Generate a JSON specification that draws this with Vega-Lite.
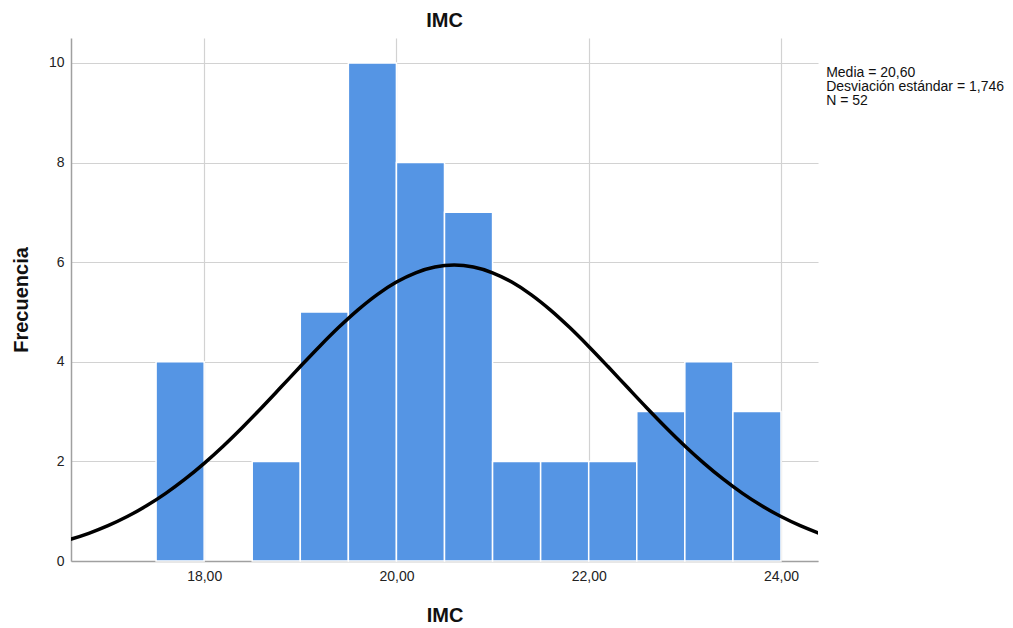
{
  "$schema": "https://vega.github.io/schema/vega-lite/v6.json",
  "width": 747,
  "height": 523,
  "autosize": "none",
  "padding": {"left": 71, "top": 38, "right": 195, "bottom": 67},
  "background": "white",
  "config": {
    "font": "Liberation Sans",
    "view": {"stroke": null},
    "axis": {"ticks": false, "domainColor": "#a0a0a0", "domainWidth": 1.5, "gridColor": "#d2d2d2", "gridWidth": 1.2, "labelFont": "Liberation Sans", "labelFontSize": 14, "labelColor": "#222", "titleFont": "Liberation Sans", "titleFontSize": 20, "titleFontWeight": "bold", "titleColor": "#111"}
  },
  "title": {"text": "IMC", "fontSize": 20, "fontWeight": "bold", "font": "Liberation Sans", "color": "#111", "offset": 7, "anchor": "middle"},
  "datasets": {
    "bins": [
      {"start": 17.5, "end": 18.0, "count": 4},
      {"start": 18.0, "end": 18.5, "count": 0},
      {"start": 18.5, "end": 19.0, "count": 2},
      {"start": 19.0, "end": 19.5, "count": 5},
      {"start": 19.5, "end": 20.0, "count": 10},
      {"start": 20.0, "end": 20.5, "count": 8},
      {"start": 20.5, "end": 21.0, "count": 7},
      {"start": 21.0, "end": 21.5, "count": 2},
      {"start": 21.5, "end": 22.0, "count": 2},
      {"start": 22.0, "end": 22.5, "count": 2},
      {"start": 22.5, "end": 23.0, "count": 3},
      {"start": 23.0, "end": 23.5, "count": 4},
      {"start": 23.5, "end": 24.0, "count": 3}
    ],
    "curve": [
      {"x": 16.4, "y": 0.3318},
      {"x": 16.6, "y": 0.4306},
      {"x": 16.8, "y": 0.5562},
      {"x": 17.0, "y": 0.7090},
      {"x": 17.2, "y": 0.8922},
      {"x": 17.4, "y": 1.1078},
      {"x": 17.6, "y": 1.3576},
      {"x": 17.8, "y": 1.6421},
      {"x": 18.0, "y": 1.9604},
      {"x": 18.2, "y": 2.3097},
      {"x": 18.4, "y": 2.6859},
      {"x": 18.6, "y": 3.0825},
      {"x": 18.8, "y": 3.4919},
      {"x": 19.0, "y": 3.9039},
      {"x": 19.2, "y": 4.3074},
      {"x": 19.4, "y": 4.6910},
      {"x": 19.6, "y": 5.0421},
      {"x": 19.8, "y": 5.3486},
      {"x": 20.0, "y": 5.6001},
      {"x": 20.2, "y": 5.7868},
      {"x": 20.4, "y": 5.9019},
      {"x": 20.6, "y": 5.9407},
      {"x": 20.8, "y": 5.9019},
      {"x": 21.0, "y": 5.7868},
      {"x": 21.2, "y": 5.6001},
      {"x": 21.4, "y": 5.3486},
      {"x": 21.6, "y": 5.0421},
      {"x": 21.8, "y": 4.6910},
      {"x": 22.0, "y": 4.3074},
      {"x": 22.2, "y": 3.9039},
      {"x": 22.4, "y": 3.4919},
      {"x": 22.6, "y": 3.0825},
      {"x": 22.8, "y": 2.6859},
      {"x": 23.0, "y": 2.3097},
      {"x": 23.2, "y": 1.9604},
      {"x": 23.4, "y": 1.6421},
      {"x": 23.6, "y": 1.3576},
      {"x": 23.8, "y": 1.1078},
      {"x": 24.0, "y": 0.8922},
      {"x": 24.2, "y": 0.7090},
      {"x": 24.4, "y": 0.5562},
      {"x": 24.6, "y": 0.4306}
    ],
    "stats": [
      {"label": ["Media = 20,60", "Desviación estándar = 1,746", "N = 52"]}
    ]
  },
  "layer": [
    {
      "data": {"name": "bins"},
      "transform": [{"filter": "datum.count > 0"}],
      "mark": {"type": "bar", "color": "#5595E4", "stroke": "white", "strokeWidth": 1.5},
      "encoding": {
        "x": {"field": "start", "type": "quantitative",
              "scale": {"domain": [16.615, 24.385], "nice": false, "zero": false},
              "axis": {"values": [18, 20, 22, 24], "title": "IMC", "labelExpr": "replace(format(datum.value, '.2f'), '.', ',')", "labelPadding": 8, "titlePadding": 22, "grid": true}},
        "x2": {"field": "end"},
        "y": {"field": "count", "type": "quantitative",
              "scale": {"domain": [0, 10.5], "nice": false},
              "axis": {"values": [0, 2, 4, 6, 8, 10], "title": "Frecuencia", "labelPadding": 7, "titlePadding": 17, "grid": true}},
        "y2": {"datum": 0}
      }
    },
    {
      "data": {"name": "curve"},
      "mark": {"type": "line", "color": "black", "strokeWidth": 3.5, "clip": true, "interpolate": "monotone"},
      "encoding": {
        "x": {"field": "x", "type": "quantitative"},
        "y": {"field": "y", "type": "quantitative"}
      }
    },
    {
      "data": {"name": "stats"},
      "mark": {"type": "text", "align": "left", "baseline": "top", "fontSize": 14, "lineHeight": 14, "font": "Liberation Sans", "color": "#111", "clip": false},
      "encoding": {
        "text": {"field": "label"},
        "x": {"datum": 24.47},
        "y": {"datum": 9.94}
      }
    }
  ]
}
